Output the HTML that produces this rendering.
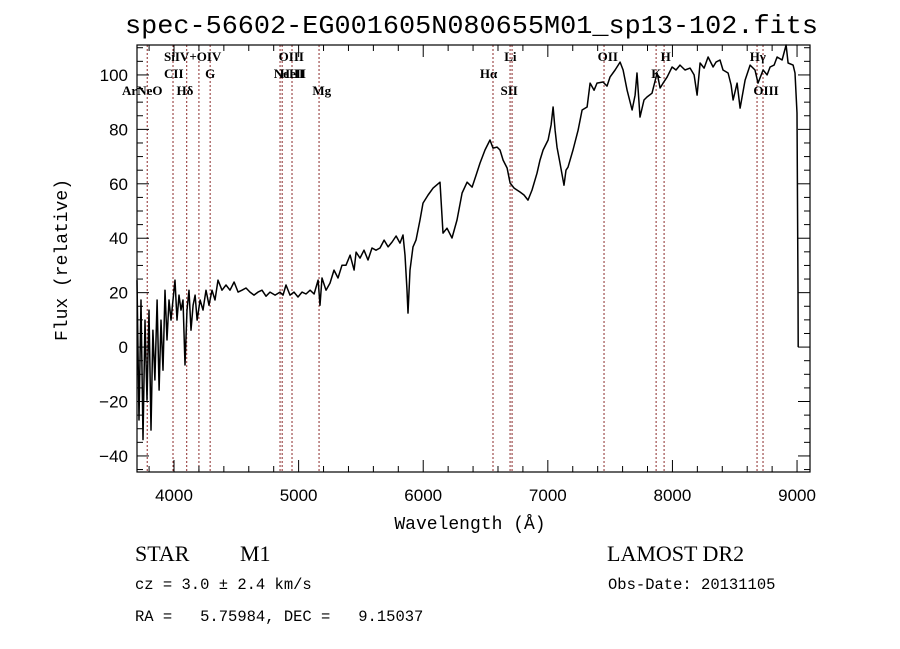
<!DOCTYPE html>
<html><head><meta charset="utf-8"><style>
html,body{margin:0;padding:0;background:#fff;}
svg{display:block;}
</style></head><body>
<svg id="chart" width="900" height="649" viewBox="0 0 900 649" xmlns="http://www.w3.org/2000/svg">
<rect width="900" height="649" fill="#fff"/>
<text x="125" y="33" font-family="Liberation Mono, monospace" font-size="26" textLength="693" lengthAdjust="spacingAndGlyphs">spec-56602-EG001605N080655M01_sp13-102.fits</text>
<g id="lines"></g>
<g id="series"></g>
<g id="axes"></g>
<text x="470" y="529" text-anchor="middle" font-family="Liberation Mono, monospace" font-size="18">Wavelength (Å)</text>
<text transform="translate(67,260) rotate(-90)" text-anchor="middle" font-family="Liberation Mono, monospace" font-size="18">Flux (relative)</text>
<g font-family="Liberation Serif, serif" font-size="22">
<text x="135" y="561">STAR</text>
<text x="240" y="561">M1</text>
<text x="607" y="561">LAMOST DR2</text>
</g>
<g font-family="Liberation Mono, monospace" font-size="15.5">
<text x="135" y="589" xml:space="preserve">cz = 3.0 ± 2.4 km/s</text>
<text x="608" y="589">Obs-Date: 20131105</text>
<text x="135" y="621" xml:space="preserve">RA =   5.75984, DEC =   9.15037</text>
</g>
</svg>
<script>
const wavelengths = [3703,3719,3735,3751,3767,3783,3799,3815,3831,3847,3864,3880,3896,3912,3928,3944,3960,3976,3992,4008,4024,4040,4056,4072,4088,4104,4120,4136,4153,4169,4185,4209,4233,4257,4281,4305,4329,4353,4385,4417,4449,4482,4514,4546,4578,4610,4642,4674,4706,4738,4770,4811,4851,4875,4899,4931,4963,4995,5027,5059,5092,5124,5156,5172,5188,5220,5252,5284,5316,5348,5380,5413,5445,5461,5493,5525,5557,5589,5621,5653,5686,5718,5750,5782,5814,5838,5854,5870,5878,5894,5918,5942,5974,5998,6039,6079,6135,6159,6191,6231,6271,6312,6352,6392,6424,6456,6496,6536,6560,6592,6616,6641,6673,6697,6729,6777,6809,6841,6873,6913,6937,6962,7002,7026,7042,7058,7074,7098,7130,7146,7162,7202,7243,7275,7315,7339,7371,7395,7443,7475,7499,7540,7580,7604,7636,7676,7700,7716,7740,7772,7796,7836,7877,7901,7925,7957,7997,8029,8061,8101,8142,8174,8198,8222,8254,8286,8326,8350,8382,8406,8447,8471,8487,8519,8543,8583,8623,8663,8687,8728,8760,8784,8816,8840,8880,8912,8928,8968,8984,9000,9008,9009];
const fluxes = [24.6,-26.8,17.3,-34,9.9,-19.5,13.6,-30.5,6.2,-12.1,17.3,-15.8,9.9,-8.5,20.9,2.6,17.3,9.9,17.3,24.6,9.9,19.1,13.6,17.3,-6.6,13.6,20.9,6.2,15.4,19.1,9.9,17.3,13.6,20.9,15.4,20.9,17.3,24.6,20.9,22.8,20.9,23.9,20.2,20.9,21.7,20.2,19.1,20.2,20.9,18.7,20.2,19.1,20.2,19.1,22.8,19.1,20.2,18.4,20.2,19.5,20.9,19.5,24.6,15.4,25.4,20.9,23.5,28.3,25.4,30.1,30.1,33.8,28.3,34.9,32.7,35.6,32.0,36.4,35.6,36.4,39.3,36.8,38.6,40.8,38.2,41.2,33.8,20.9,12.5,28.3,36.8,39.3,46.7,52.9,55.9,58.4,60.6,41.9,43.7,40.1,46.7,56.6,60.6,58.8,63.2,67.6,72.4,76.1,73.1,73.5,72.4,68.7,65.8,60.3,58.4,57.0,55.9,54.0,57.7,63.9,68.7,72.4,76.1,81.6,88.2,79.7,73.5,67.6,59.5,65.0,66.1,72.4,79.7,87.1,88.2,97.0,94.4,97.0,97.4,95.9,99.2,101.8,104.7,101.8,94.4,87.1,92.6,100.7,84.5,90.8,91.9,93.3,100.7,95.2,97.0,99.2,102.9,101.8,103.6,101.8,102.5,100.0,92.6,104.4,102.5,106.6,102.9,104.7,105.5,101.8,100.7,96.3,90.8,97.0,87.8,98.1,103.6,101.8,97.0,101.8,100.0,102.9,103.6,106.6,105.5,111,104.4,103.6,100.7,86,21,0];
const lineWaves = [3785,3992,4102,4200,4290,4851,4868,4947,5164,6560,6697,6713,7451,7869,7933,8679,8727];
const lineLabels = ["ArNeO","SiIV+OIV","CII","Hδ","G","OIII","NeIII","HeII","Mg","Hα","Li","SII","OII","K","H","Hγ","OIII"];
const labelWaves = [3583,3920,3920,4020,4250,4840,4800,4850,5110,6455,6650,6620,7400,7830,7905,8620,8650];
const labelRows = [3,1,2,3,2,1,2,2,3,2,1,3,1,2,1,1,3];
const xTicks = [4000,5000,6000,7000,8000,9000];
const yTicks = [-40,-20,0,20,40,60,80,100];

const L=137,R=810,T=45,B=472;
const xMin=3703,xMax=9104,yMin=-45.9,yMax=111;
const xs=v=>L+(v-xMin)/(xMax-xMin)*(R-L);
const ys=v=>B-(v-yMin)/(yMax-yMin)*(B-T);
const NS='http://www.w3.org/2000/svg';
function mk(tag,attrs,parent){const e=document.createElementNS(NS,tag);for(const k in attrs)e.setAttribute(k,attrs[k]);parent.appendChild(e);return e;}

const gl=document.getElementById('lines');
lineWaves.forEach((w,i)=>{
  const ln=mk('line',{x1:xs(w),x2:xs(w),y1:T,y2:B,stroke:'#8b2a2a','stroke-width':1,'stroke-dasharray':'2,2'},gl);
  
  
});
lineLabels.forEach((t,i)=>{
  const tx=mk('text',{x:xs(labelWaves[i]),y:44+labelRows[i]*17,'font-family':'Liberation Serif, serif','font-size':13,'font-weight':'bold'},gl);
  tx.textContent=t;
  
  
});

const gs=document.getElementById('series');
const pts=wavelengths.map((w,i)=>xs(w).toFixed(1)+','+ys(fluxes[i]).toFixed(1)).join(' ');
const pl=mk('polyline',{points:pts,fill:'none',stroke:'#000','stroke-width':1.5,'stroke-linejoin':'round'},gs);



const ga=document.getElementById('axes');
const fr=mk('rect',{x:L,y:T,width:R-L,height:B-T,fill:'none',stroke:'#000','stroke-width':1.2},ga);


for(let v=3800;v<=xMax;v+=200){
  const major=v%1000===0, len=major?12:6, x=xs(v);
  mk('line',{x1:x,x2:x,y1:B,y2:B-len,stroke:'#000'},ga);
  mk('line',{x1:x,x2:x,y1:T,y2:T+len,stroke:'#000'},ga);
}
for(let v=-45;v<=yMax;v+=5){
  const major=v%20===0, len=major?12:6, y=ys(v);
  mk('line',{x1:L,x2:L+len,y1:y,y2:y,stroke:'#000'},ga);
  mk('line',{x1:R,x2:R-len,y1:y,y2:y,stroke:'#000'},ga);
}
xTicks.forEach(v=>{
  const t=mk('text',{x:xs(v),y:501,'text-anchor':'middle','font-family':'Liberation Sans, sans-serif','font-size':17},ga);
  t.textContent=v;
  
  
});
yTicks.forEach(v=>{
  const t=mk('text',{x:128,y:ys(v)+6,'text-anchor':'end','font-family':'Liberation Sans, sans-serif','font-size':17},ga);
  t.textContent=v<0?'\u2212'+(-v):v;
  
  
});
</script>
</body></html>
